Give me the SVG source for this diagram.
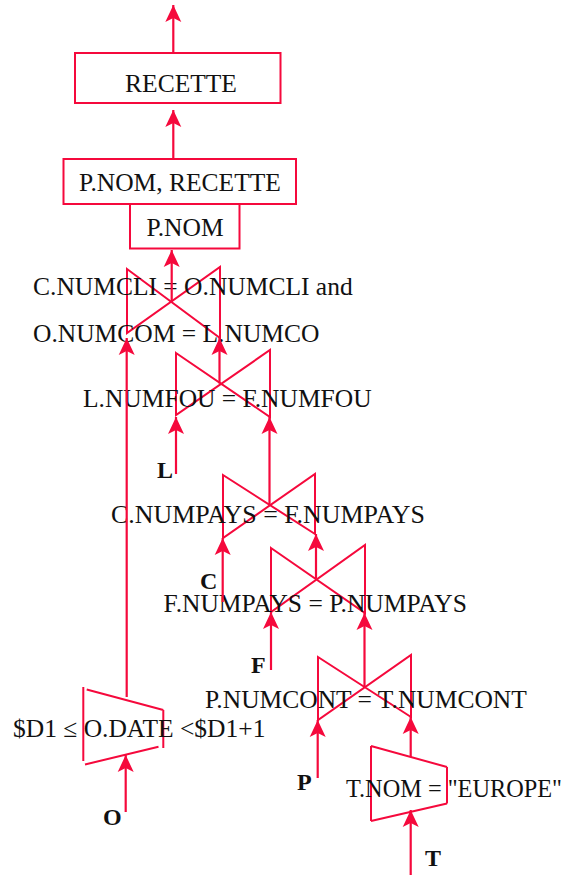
<svg xmlns="http://www.w3.org/2000/svg" width="570" height="875" viewBox="0 0 570 875">
  <style>
    .shape { fill: none; stroke: #f5093c; stroke-width: 2; }
    .edge { fill: none; stroke: #f5093c; stroke-width: 2.2; marker-end: url(#arrow); }
    .t { font-family: "Liberation Serif", "Times New Roman", serif; font-size: 25.5px; fill: #111; }
    .rel { font-family: "Liberation Serif", "Times New Roman", serif; font-size: 24px; font-weight: bold; fill: #111; }
  </style>
  <defs>
    <marker id="arrow" markerUnits="userSpaceOnUse" viewBox="-18 -9 19 18" refX="0" refY="0" markerWidth="19" markerHeight="18" orient="auto">
      <path d="M0,0 L-17,-8 L-13,0 L-17,8 Z" fill="#f5093c"/>
    </marker>
  </defs>

  <rect width="570" height="875" fill="#ffffff"/>

  <!-- operator nodes -->
  <g id="result">
    <rect class="shape" x="75" y="53" width="205.5" height="50"/>
    <text class="t" x="181" y="91.5" text-anchor="middle">RECETTE</text>
  </g>
  <g id="group-by">
    <rect class="shape" x="63.5" y="159" width="232.5" height="45"/>
    <text class="t" x="180" y="190.5" text-anchor="middle">P.NOM, RECETTE</text>
  </g>
  <g id="group-key">
    <rect class="shape" x="130" y="204" width="109.5" height="44.5"/>
    <text class="t" x="185" y="236" text-anchor="middle">P.NOM</text>
  </g>

  <g id="join-c-o-l">
    <polygon class="shape" points="127,269 220,338 220,267 127,333"/>
    <text class="t" x="33" y="295">C.NUMCLI = O.NUMCLI and</text>
    <text class="t" x="33" y="341.5">O.NUMCOM = L.NUMCO</text>
  </g>
  <g id="join-l-f">
    <polygon class="shape" points="176,353 270,417 270,350 176,415"/>
    <text class="t" x="83" y="406.5">L.NUMFOU = F.NUMFOU</text>
  </g>
  <g id="join-c-f">
    <polygon class="shape" points="223,475 315,534 315,474 223,538"/>
    <text class="t" x="111" y="523" textLength="314" lengthAdjust="spacingAndGlyphs">C.NUMPAYS = F.NUMPAYS</text>
  </g>
  <g id="join-f-p">
    <polygon class="shape" points="271,548 365,613 365,545 271,612"/>
    <text class="t" x="163.5" y="611.5">F.NUMPAYS = P.NUMPAYS</text>
  </g>
  <g id="join-p-t">
    <polygon class="shape" points="318,657 411,717 411,655 318,720"/>
    <text class="t" x="205" y="708">P.NUMCONT = T.NUMCONT</text>
  </g>

  <g id="select-o">
    <path class="shape" d="M83.3,687 V761 M86.7,689.5 L163.3,710 M163.3,710 V748 M85,764.5 L158.5,746.7"/>
    <text class="t" x="13" y="737">$D1 ≤ O.DATE &lt;$D1+1</text>
  </g>
  <g id="select-t">
    <path class="shape" d="M371,746 V821 M371,746 L447,767 M447,767 V803.5 M371,821 L447,803.5"/>
    <text class="t" x="346" y="796.5" textLength="216" lengthAdjust="spacingAndGlyphs">T.NOM = "EUROPE"</text>
  </g>

  <!-- base relations -->
  <g id="rel-l"><text class="rel" x="157" y="478">L</text></g>
  <g id="rel-c"><text class="rel" x="200" y="589">C</text></g>
  <g id="rel-f"><text class="rel" x="251" y="673">F</text></g>
  <g id="rel-p"><text class="rel" x="297" y="790">P</text></g>
  <g id="rel-o"><text class="rel" x="103" y="825">O</text></g>
  <g id="rel-t"><text class="rel" x="425" y="866">T</text></g>

  <!-- data flow -->
  <g id="connectors">
    <line class="edge" x1="173.3" y1="53" x2="173.3" y2="5"/>
    <line class="edge" x1="173.3" y1="159" x2="173.3" y2="110"/>
    <line class="edge" x1="171.7" y1="302" x2="171.7" y2="250"/>
    <line class="edge" x1="219.5" y1="383.5" x2="219.5" y2="338"/>
    <line class="edge" x1="126.7" y1="697" x2="126.7" y2="338"/>
    <line class="edge" x1="176" y1="474" x2="176" y2="417"/>
    <line class="edge" x1="269.5" y1="505" x2="269.5" y2="417"/>
    <line class="edge" x1="222.7" y1="602" x2="222.7" y2="538"/>
    <line class="edge" x1="316" y1="578.5" x2="316" y2="534"/>
    <line class="edge" x1="271" y1="670" x2="271" y2="612"/>
    <line class="edge" x1="364.5" y1="687" x2="364.5" y2="613"/>
    <line class="edge" x1="317.7" y1="778" x2="317.7" y2="720"/>
    <line class="edge" x1="410.7" y1="757" x2="410.7" y2="717"/>
    <line class="edge" x1="125.7" y1="812" x2="125.7" y2="755"/>
    <line class="edge" x1="410.7" y1="875" x2="410.7" y2="810"/>
  </g>
</svg>
